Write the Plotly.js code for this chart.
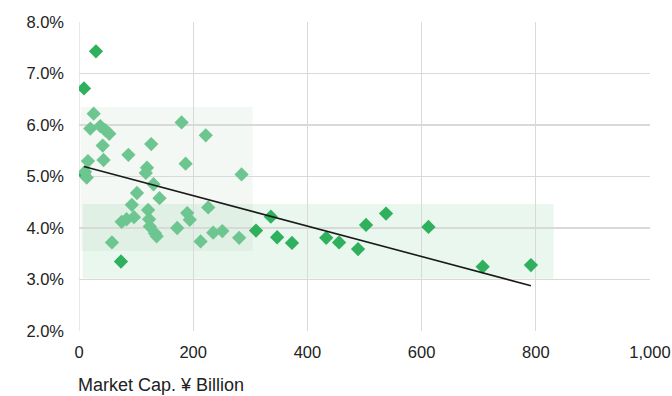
<!DOCTYPE html>
<html>
<head>
<meta charset="utf-8">
<script src="https://cdn.plot.ly/plotly-3.0.1.min.js"></script>
<style>html,body{margin:0;padding:0;background:#fff;}#chart{width:672px;height:396px;}</style>
</head>
<body>
<div id="chart"></div>
<script>
// Light green series (market cap, yield %)
const lightX = [25.7, 19.8, 37.3, 46, 53, 41.5, 43, 86.5, 126.5, 119, 117, 15.7, 10.5, 13.5,
  101.5, 130.5, 141, 92.5, 74.7, 83.3, 96.3, 121, 122.8, 124, 133, 136, 57.7, 172,
  179.7, 222, 186.7, 284.7, 189.5, 194, 226.3, 213, 235, 251, 280.5];
const lightY = [6.22, 5.93, 5.98, 5.90, 5.83, 5.60, 5.32, 5.42, 5.63, 5.17, 5.07, 5.30, 5.09, 4.98,
  4.68, 4.85, 4.58, 4.45, 4.12, 4.17, 4.21, 4.35, 4.17, 4.03, 3.90, 3.84, 3.72, 4.00,
  6.05, 5.80, 5.25, 5.04, 4.29, 4.16, 4.40, 3.74, 3.91, 3.94, 3.81];
// Dark green series
const darkX = [29.7, 8.7, 73.5, 8.5, 310, 336, 347, 373, 433, 455.5, 488.7, 502.7, 537.7, 612, 707, 791.5];
const darkY = [7.43, 6.71, 3.35, 5.05, 3.95, 4.22, 3.82, 3.71, 3.81, 3.72, 3.59, 4.06, 4.28, 4.02, 3.25, 3.28];
// Highlight zones [x0, x1, y0, y1]
const zoneSmall = [3, 304, 3.555, 6.35];
const zoneLarge = [6.5, 831, 3.02, 4.465];
const xTicks = [0, 200, 400, 600, 800, 1000];
const xTickText = ['0', '200', '400', '600', '800', '1,000'];
const yTicks = [2, 3, 4, 5, 6, 7, 8];
const yTickText = ['2.0%', '3.0%', '4.0%', '5.0%', '6.0%', '7.0%', '8.0%'];
const xTitle = 'Market Cap. ¥ Billion';

// Linear trend over all points
const allX = lightX.concat(darkX), allY = lightY.concat(darkY);
const n = allX.length;
const mx = allX.reduce((a,b)=>a+b,0)/n, my = allY.reduce((a,b)=>a+b,0)/n;
let sxy = 0, sxx = 0;
for (let i=0;i<n;i++){ sxy += (allX[i]-mx)*(allY[i]-my); sxx += (allX[i]-mx)**2; }
const slope = sxy/sxx, icpt = my - slope*mx;
const tX = [Math.min(...allX), Math.max(...allX)];
const tY = tX.map(x => icpt + slope*x);

const traces = [
  {x: darkX, y: darkY, mode: 'markers', marker: {symbol: 'diamond', size: 11, color: '#2eb05c'}, showlegend: false},
  {x: lightX, y: lightY, mode: 'markers', marker: {symbol: 'diamond', size: 11, color: '#6dc68f'}, showlegend: false},
  {x: tX, y: tY, mode: 'lines', line: {color: '#1a1a1a', width: 1.6}, hoverinfo: 'skip', showlegend: false}
];

const font = {family: 'Liberation Sans, Arial, sans-serif', size: 16.5, color: '#222'};
const layout = {
  width: 672, height: 396,
  margin: {l: 79, r: 21.5, t: 21.5, b: 64.7},
  paper_bgcolor: '#fff', plot_bgcolor: '#fff',
  font: font,
  showlegend: false,
  xaxis: {range: [0, 1000], tickmode: 'array', tickvals: xTicks, ticktext: xTickText, showgrid: true, gridcolor: '#d9d9d9', gridwidth: 1.2,
    zeroline: false, showline: false, ticks: '', ticklabelstandoff: 9, tickfont: font, automargin: false},
  yaxis: {range: [2, 8], tickmode: 'array', tickvals: yTicks, ticktext: yTickText, showgrid: true, gridcolor: '#d9d9d9', gridwidth: 1.2,
    zeroline: false, showline: false, ticks: '', ticklabelstandoff: 14, tickfont: font, automargin: false},
  shapes: [
    {type: 'rect', xref: 'x', yref: 'y', x0: zoneLarge[0], x1: zoneLarge[1], y0: zoneLarge[2], y1: zoneLarge[3],
      fillcolor: 'rgba(46,176,90,0.1)', line: {width: 0}, layer: 'below'},
    {type: 'rect', xref: 'x', yref: 'y', x0: zoneSmall[0], x1: zoneSmall[1], y0: zoneSmall[2], y1: zoneSmall[3],
      fillcolor: 'rgba(120,160,130,0.08)', line: {width: 0}, layer: 'below'},
    {type: 'line', xref: 'x', yref: 'paper', x0: 0, x1: 0, y0: 0, y1: 1, line: {color: '#d9d9d9', width: 1.2}, layer: 'below'}
  ],
  annotations: [
    {text: xTitle, xref: 'paper', yref: 'paper', x: -0.005, y: -0.174, xanchor: 'left', yanchor: 'middle',
      showarrow: false, font: Object.assign({}, font, {size: 18})}
  ]
};
Plotly.newPlot('chart', traces, layout, {displayModeBar: false, staticPlot: true});
</script>
</body>
</html>
